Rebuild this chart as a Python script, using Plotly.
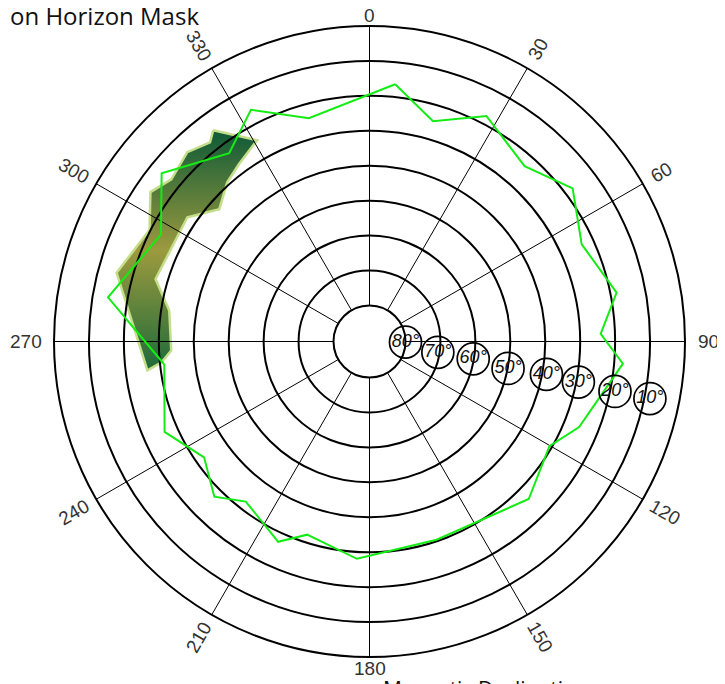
import numpy as np
import plotly.graph_objects as go

# ---------------- data ----------------
horizon_az = [5.7, 16.1, 27.4, 41.5, 53.0, 65.4, 78.8, 88.1, 95.0, 112.2, 120.2, 134.7,
              161.3, 183.3, 197.9, 204.5, 217.7, 225.0, 235.0, 246.2, 263.6, 265.3,
              279.6, 297.2, 309.0, 323.3, 332.9, 344.8]
horizon_el = [16.3, 24.7, 17.6, 23.3, 17.5, 23.5, 18.2, 24.1, 17.5, 25.5, 30.7, 26.2,
              30.4, 28.0, 32.2, 27.3, 32.4, 27.5, 32.5, 26.2, 31.2, 30.0,
              14.4, 23.2, 13.75, 23.1, 15.8, 24.1]

obstruction_az = [323.5, 330.8, 323.6, 318.2, 311.4, 304.3, 286.3, 278.8, 267.4, 264.3,
                  262.6, 285.2, 296.9, 304.3, 309.3, 316.1, 321.3]
obstruction_el = [15.1, 24.3, 27.3, 29.2, 33.0, 27.2, 26.5, 32.3, 33.5, 30.5,
                  26.2, 15.3, 19.7, 14.4, 17.0, 15.1, 17.3]

elev_label_values = [80, 70, 60, 50, 40, 30, 20, 10]
elev_label_az = [91, 99, 99.5, 101, 100.5, 101, 101.5, 101.5]
elev_label_el = [80, 70.5, 60.2, 49.9, 38.8, 29.4, 18.6, 8.4]

elev_grid = [80, 70, 60, 50, 40, 30, 20, 10]
angle_ticks = [0, 30, 60, 90, 120, 150, 180, 210, 240, 270, 300, 330]
angle_labels = [str(a) for a in angle_ticks]

title_text = "on Horizon Mask"
footer_text = "Magnetic Declination"

# ---------------- geometry ----------------
W, H = 725, 684
PAGE_OFF = 8          # default body margin of the html page
ML, MT = 54 - PAGE_OFF, 26 - PAGE_OFF
PW = PH = 631
MR = W - ML - PW
MB = H - MT - PH
R_PX = PW / 2.0
HOLE = 36.0 / R_PX
EL_MAX = 80.0

TICK_FONT = "Liberation Sans Narrow, Liberation Sans, sans-serif"


def to_xy(az, el):
    a = np.radians(np.asarray(az, dtype=float))
    e = np.asarray(el, dtype=float)
    rho = HOLE + (EL_MAX - e) / EL_MAX * (1 - HOLE)
    return rho * np.sin(a), rho * np.cos(a)


def px_to_paper(px, py):
    # px, py are positions in the final screenshot
    return (px - PAGE_OFF - ML) / PW, 1 - (py - PAGE_OFF - MT) / PH


ox, oy = to_xy(obstruction_az + obstruction_az[:1], obstruction_el + obstruction_el[:1])

fig = go.Figure()

# obstruction polygon (gradient fill) on a hidden cartesian overlay aligned with the polar disc
fig.add_trace(go.Scatter(
    x=ox, y=oy, mode="lines", fill="toself",
    line=dict(color="#c4de8a", width=2.5),
    fillgradient=dict(type="vertical",
                      colorscale=[[0, "#1d6a3a"], [0.5, "#9c9a3e"], [1, "#0e5a37"]]),
    hoverinfo="skip", showlegend=False, xaxis="x", yaxis="y"))

# horizon profile
fig.add_trace(go.Scatterpolar(
    theta=horizon_az + horizon_az[:1], r=horizon_el + horizon_el[:1],
    mode="lines", line=dict(color="#14ec14", width=2),
    hoverinfo="skip", showlegend=False))

# elevation labels in circles
fig.add_trace(go.Scatterpolar(
    theta=elev_label_az, r=elev_label_el, mode="markers+text",
    text=[f"{v}°" for v in elev_label_values], textposition="middle center",
    marker=dict(size=32, color="rgba(0,0,0,0)", line=dict(color="black", width=1.7)),
    textfont=dict(family=TICK_FONT, size=18, style="italic", color="#111"),
    cliponaxis=False, hoverinfo="skip", showlegend=False))

# angular tick labels as rotated annotations
annotations = []
for ang, lab in zip(angle_ticks, angle_labels):
    n = len(lab)
    if ang in (0, 180):
        d = R_PX + 11
        rot = 0
    elif ang in (90, 270):
        d = R_PX + 14 + n * 9.5 / 2
        rot = 0
    else:
        d = R_PX + 12 + n * 9.5 / 2
        rot = ang - 90 if ang < 180 else ang - 270
    a = np.radians(ang)
    annotations.append(dict(
        x=0.5 + d * np.sin(a) / PW, y=0.5 + d * np.cos(a) / PH,
        xref="paper", yref="paper", text=lab, showarrow=False,
        xanchor="center", yanchor="middle", textangle=rot,
        font=dict(family=TICK_FONT, size=19, color="#333")))

tx, ty = px_to_paper(8, -3)
annotations.append(dict(
    x=tx, y=ty, xref="paper", yref="paper",
    text=title_text, showarrow=False, xanchor="left", yanchor="top",
    font=dict(family="Open Sans, Noto Sans, sans-serif", size=24, color="#111")))
fx, fy = px_to_paper(381, 673)
annotations.append(dict(
    x=fx, y=fy, xref="paper", yref="paper",
    text=footer_text, showarrow=False, xanchor="left", yanchor="top",
    font=dict(family="Open Sans, Noto Sans, sans-serif", size=21, color="#111")))

fig.update_layout(
    width=W, height=H,
    margin=dict(l=ML, r=MR, t=MT, b=MB, pad=0),
    paper_bgcolor="white", plot_bgcolor="rgba(0,0,0,0)",
    showlegend=False,
    xaxis=dict(range=[-1, 1], domain=[0, 1], visible=False, fixedrange=True),
    yaxis=dict(range=[-1, 1], domain=[0, 1], visible=False, fixedrange=True),
    polar=dict(
        domain=dict(x=[0, 1], y=[0, 1]),
        hole=HOLE,
        bgcolor="rgba(0,0,0,0)",
        radialaxis=dict(range=[EL_MAX, 0], tickmode="array", tickvals=elev_grid,
                        showticklabels=False, ticks="", showline=False,
                        gridcolor="black", gridwidth=2),
        angularaxis=dict(direction="clockwise", rotation=90, tickmode="array",
                         tickvals=angle_ticks, showticklabels=False, ticks="",
                         gridcolor="black", gridwidth=1, showline=True,
                         linecolor="black", linewidth=2),
    ),
    annotations=annotations,
)

fig.write_html("out.html")
